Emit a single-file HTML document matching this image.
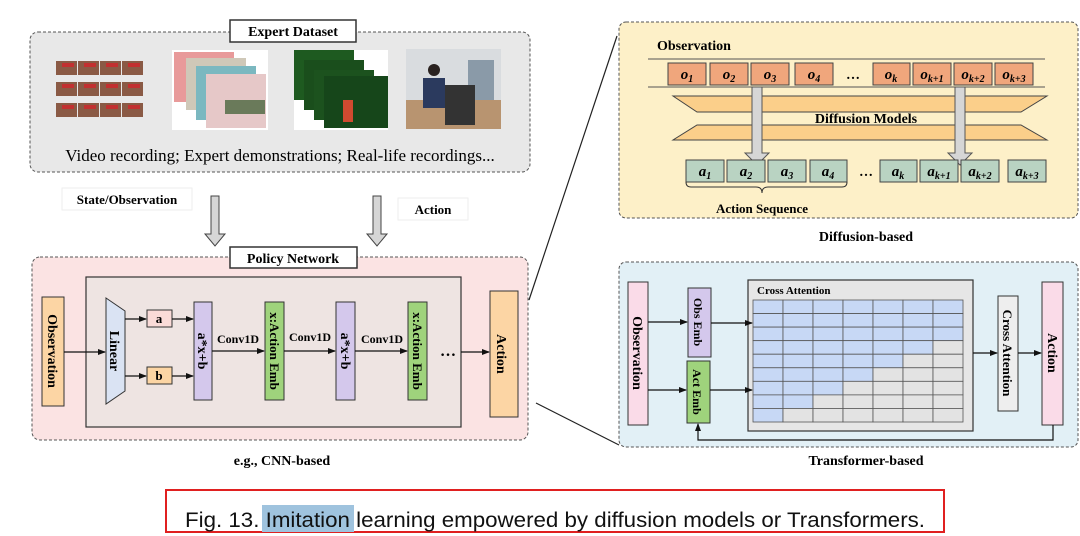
<!DOCTYPE html>
<html><head><meta charset="utf-8"><style>
body{margin:0;background:#fff;width:1080px;height:536px;overflow:hidden}
svg{display:block}
.t{font-family:"Liberation Serif",serif;font-weight:bold}
</style></head><body>
<svg width="1080" height="536" viewBox="0 0 1080 536" xmlns="http://www.w3.org/2000/svg">
<defs>
<marker id="ar" markerWidth="8" markerHeight="8" refX="7" refY="4" orient="auto" markerUnits="userSpaceOnUse"><path d="M0,1 L8,4 L0,7z" fill="#111"/></marker>
</defs>
<g class="t" font-family="Liberation Serif" font-weight="bold">
<!-- Expert dataset -->
<rect x="30" y="32" width="500" height="140" rx="8" fill="#e8e8e8" stroke="#555" stroke-dasharray="3,2"/>
<rect x="230" y="20" width="126" height="22" fill="#fff" stroke="#333" stroke-width="1.5"/>
<text x="293" y="36" font-size="14" text-anchor="middle">Expert Dataset</text>
<!-- image 1 grid -->
<g>
<rect x="55" y="60" width="92" height="58" fill="#e8e8e8"/>
<g fill="#8a5a45"><rect x="56" y="61" width="21" height="14"/><rect x="78" y="61" width="21" height="14"/><rect x="100" y="61" width="21" height="14"/><rect x="122" y="61" width="21" height="14"/>
<rect x="56" y="82" width="21" height="14"/><rect x="78" y="82" width="21" height="14"/><rect x="100" y="82" width="21" height="14"/><rect x="122" y="82" width="21" height="14"/>
<rect x="56" y="103" width="21" height="14"/><rect x="78" y="103" width="21" height="14"/><rect x="100" y="103" width="21" height="14"/><rect x="122" y="103" width="21" height="14"/></g>
<g fill="#c23030"><rect x="62" y="63" width="12" height="4"/><rect x="84" y="63" width="12" height="4"/><rect x="106" y="63" width="12" height="4"/><rect x="128" y="63" width="12" height="4"/>
<rect x="62" y="84" width="12" height="4"/><rect x="84" y="84" width="12" height="4"/><rect x="106" y="84" width="12" height="4"/><rect x="128" y="84" width="12" height="4"/>
<rect x="62" y="105" width="12" height="4"/><rect x="84" y="105" width="12" height="4"/><rect x="106" y="105" width="12" height="4"/><rect x="128" y="105" width="12" height="4"/></g>
</g>
<!-- image 2 -->
<rect x="172" y="50" width="96" height="80" fill="#fff"/>
<rect x="174" y="52" width="60" height="50" fill="#e89a9a"/>
<rect x="186" y="58" width="60" height="52" fill="#cfc8b8"/>
<rect x="196" y="66" width="60" height="54" fill="#7bb8c0"/>
<rect x="206" y="74" width="60" height="54" fill="#e6c8c8"/>
<rect x="225" y="100" width="40" height="14" fill="#6a7a5a"/>
<!-- image 3 -->
<rect x="294" y="50" width="94" height="80" fill="#fff"/>
<rect x="294" y="50" width="60" height="50" fill="#1e5a20"/>
<rect x="304" y="60" width="60" height="50" fill="#1a4e1c"/>
<rect x="314" y="70" width="60" height="50" fill="#1c521e"/>
<rect x="324" y="76" width="64" height="52" fill="#16461a"/>
<rect x="343" y="100" width="10" height="22" fill="#d04a30"/>
<!-- image 4 -->
<rect x="406" y="49" width="95" height="80" fill="#d9dcdf"/>
<rect x="406" y="100" width="95" height="29" fill="#b89470"/>
<rect x="468" y="60" width="26" height="40" fill="#8a9aa8"/>
<rect x="423" y="78" width="22" height="30" fill="#2b3a5e"/>
<circle cx="434" cy="70" r="6" fill="#2a2220"/>
<rect x="445" y="85" width="30" height="40" fill="#333"/>
<text x="280" y="161" font-size="17" font-weight="normal" text-anchor="middle">Video recording; Expert demonstrations; Real-life recordings...</text>
<!-- labels/arrows -->
<rect x="62" y="188" width="130" height="22" fill="#fff" stroke="#eee"/>
<text x="127" y="204" font-size="13" text-anchor="middle">State/Observation</text>
<rect x="398" y="198" width="70" height="22" fill="#fff" stroke="#eee"/>
<text x="433" y="214" font-size="13" text-anchor="middle">Action</text>
<path d="M211,196 h8 v38 h6 l-10,12 l-10,-12 h6z" fill="#d6d6d6" stroke="#444"/>
<path d="M373,196 h8 v38 h6 l-10,12 l-10,-12 h6z" fill="#d6d6d6" stroke="#444"/>
<!-- Policy network -->
<rect x="32" y="257" width="496" height="183" rx="8" fill="#fbe3e3" stroke="#555" stroke-dasharray="3,2"/>
<rect x="230" y="247" width="127" height="21" fill="#fff" stroke="#333" stroke-width="1.5"/>
<text x="293" y="263" font-size="14" text-anchor="middle">Policy Network</text>
<rect x="86" y="277" width="375" height="150" fill="#eee4e2" stroke="#333" stroke-width="1.2"/>
<rect x="42" y="297" width="22" height="109" fill="#fcd5a4" stroke="#333"/>
<text transform="translate(48,351) rotate(90)" font-size="14" text-anchor="middle">Observation</text>
<path d="M106,298 L125,311 L125,391 L106,404z" fill="#dae3f3" stroke="#333"/>
<text transform="translate(110,351) rotate(90)" font-size="14" text-anchor="middle">Linear</text>
<rect x="147" y="310" width="25" height="17" fill="#fadbd8" stroke="#333"/>
<text x="159" y="323" font-size="13" text-anchor="middle">a</text>
<rect x="147" y="367" width="25" height="17" fill="#fcd5a4" stroke="#333"/>
<text x="159" y="380" font-size="13" text-anchor="middle">b</text>
<rect x="194" y="302" width="18" height="98" fill="#d4c8ec" stroke="#333"/>
<text transform="translate(198,351) rotate(90)" font-size="14" text-anchor="middle">a*x+b</text>
<rect x="265" y="302" width="19" height="98" fill="#9fd37c" stroke="#333"/>
<text transform="translate(270,351) rotate(90)" font-size="13" text-anchor="middle">x:Action Emb</text>
<rect x="336" y="302" width="19" height="98" fill="#d4c8ec" stroke="#333"/>
<text transform="translate(341,351) rotate(90)" font-size="14" text-anchor="middle">a*x+b</text>
<rect x="408" y="302" width="19" height="98" fill="#9fd37c" stroke="#333"/>
<text transform="translate(413,351) rotate(90)" font-size="13" text-anchor="middle">x:Action Emb</text>
<text x="448" y="356" font-size="16" text-anchor="middle">…</text>
<rect x="490" y="291" width="28" height="126" fill="#fcd5a4" stroke="#333"/>
<text transform="translate(497,354) rotate(90)" font-size="14" text-anchor="middle">Action</text>
<g stroke="#111" stroke-width="1.2" fill="none" marker-end="url(#ar)">
<line x1="64" y1="352" x2="105" y2="352"/>
<line x1="125" y1="319" x2="146" y2="319"/>
<line x1="125" y1="376" x2="146" y2="376"/>
<line x1="172" y1="319" x2="193" y2="319"/>
<line x1="172" y1="376" x2="193" y2="376"/>
<line x1="212" y1="351" x2="264" y2="351"/>
<line x1="284" y1="351" x2="335" y2="351"/>
<line x1="355" y1="351" x2="407" y2="351"/>
<line x1="461" y1="352" x2="489" y2="352"/>
</g>
<text x="238" y="343" font-size="12" text-anchor="middle">Conv1D</text>
<text x="310" y="341" font-size="12" text-anchor="middle">Conv1D</text>
<text x="382" y="343" font-size="12" text-anchor="middle">Conv1D</text>
<text x="282" y="465" font-size="14" text-anchor="middle">e.g., CNN-based</text>
<!-- connectors -->
<line x1="529" y1="300" x2="617" y2="36" stroke="#222" stroke-width="1.2"/>
<line x1="536" y1="403" x2="619" y2="445" stroke="#222" stroke-width="1.2"/>
<!-- Diffusion -->
<rect x="619" y="22" width="459" height="196" rx="7" fill="#fdf0c8" stroke="#555" stroke-dasharray="3,2"/>
<text x="657" y="50" font-size="14">Observation</text>
<line x1="648" y1="59" x2="1045" y2="59" stroke="#555"/>
<line x1="648" y1="87" x2="1045" y2="87" stroke="#555"/>
<g fill="#f0a67c" stroke="#444">
<rect x="668" y="63" width="38" height="22"/><rect x="710" y="63" width="38" height="22"/><rect x="751" y="63" width="38" height="22"/><rect x="795" y="63" width="38" height="22"/>
<rect x="873" y="63" width="37" height="22"/><rect x="913" y="63" width="38" height="22"/><rect x="954" y="63" width="38" height="22"/><rect x="995" y="63" width="38" height="22"/>
</g>
<g font-size="15" font-style="italic" text-anchor="middle">
<text x="687" y="79">o<tspan font-size="10" dy="3">1</tspan></text>
<text x="729" y="79">o<tspan font-size="10" dy="3">2</tspan></text>
<text x="770" y="79">o<tspan font-size="10" dy="3">3</tspan></text>
<text x="814" y="79">o<tspan font-size="10" dy="3">4</tspan></text>
<text x="891" y="79">o<tspan font-size="10" dy="3">k</tspan></text>
<text x="932" y="79">o<tspan font-size="10" dy="3">k+1</tspan></text>
<text x="973" y="79">o<tspan font-size="10" dy="3">k+2</tspan></text>
<text x="1014" y="79">o<tspan font-size="10" dy="3">k+3</tspan></text>
</g>
<text x="853" y="79" font-size="14" text-anchor="middle">…</text>
<path d="M673,96 L1047,96 L1021,112 L697,112z" fill="#fbcf8a" stroke="#444"/>
<path d="M697,125 L1021,125 L1047,140 L673,140z" fill="#fbcf8a" stroke="#444"/>
<path d="M752,87 h10 v66 h7 l-12,12 l-12,-12 h7z" fill="#d6d6d6" stroke="#555"/>
<path d="M955,87 h10 v66 h7 l-12,12 l-12,-12 h7z" fill="#d6d6d6" stroke="#555"/>
<text x="866" y="123" font-size="14" text-anchor="middle">Diffusion Models</text>
<g fill="#b9d3c2" stroke="#444">
<rect x="686" y="160" width="38" height="22"/><rect x="727" y="160" width="38" height="22"/><rect x="768" y="160" width="38" height="22"/><rect x="810" y="160" width="37" height="22"/>
<rect x="880" y="160" width="37" height="22"/><rect x="920" y="160" width="38" height="22"/><rect x="961" y="160" width="38" height="22"/><rect x="1008" y="160" width="38" height="22"/>
</g>
<g font-size="15" font-style="italic" text-anchor="middle">
<text x="705" y="176">a<tspan font-size="10" dy="3">1</tspan></text>
<text x="746" y="176">a<tspan font-size="10" dy="3">2</tspan></text>
<text x="787" y="176">a<tspan font-size="10" dy="3">3</tspan></text>
<text x="828" y="176">a<tspan font-size="10" dy="3">4</tspan></text>
<text x="898" y="176">a<tspan font-size="10" dy="3">k</tspan></text>
<text x="939" y="176">a<tspan font-size="10" dy="3">k+1</tspan></text>
<text x="980" y="176">a<tspan font-size="10" dy="3">k+2</tspan></text>
<text x="1027" y="176">a<tspan font-size="10" dy="3">k+3</tspan></text>
</g>
<text x="866" y="176" font-size="14" text-anchor="middle">…</text>
<path d="M686,182 q0,5 5,5 h65 q6,0 6,6 q0,-6 6,-6 h74 q5,0 5,-5" fill="none" stroke="#333"/>
<text x="762" y="213" font-size="13" text-anchor="middle">Action Sequence</text>
<text x="866" y="241" font-size="14" text-anchor="middle">Diffusion-based</text>
<!-- Transformer -->
<rect x="619" y="262" width="459" height="185" rx="7" fill="#e2f0f6" stroke="#555" stroke-dasharray="3,2"/>
<rect x="628" y="282" width="20" height="143" fill="#fadbe8" stroke="#333"/>
<text transform="translate(633,353) rotate(90)" font-size="14" text-anchor="middle">Observation</text>
<rect x="688" y="288" width="23" height="69" fill="#d4c8ec" stroke="#333"/>
<text transform="translate(694,322) rotate(90)" font-size="12" text-anchor="middle">Obs Emb</text>
<rect x="687" y="361" width="23" height="62" fill="#9fd37c" stroke="#333"/>
<text transform="translate(693,392) rotate(90)" font-size="12" text-anchor="middle">Act Emb</text>
<rect x="748" y="280" width="225" height="151" fill="#e6e6e6" stroke="#333" stroke-width="1.2"/>
<text x="757" y="294" font-size="11">Cross Attention</text>
<g id="grid"></g>
<rect x="998" y="296" width="20" height="115" fill="#eee" stroke="#333"/>
<text transform="translate(1003,353) rotate(90)" font-size="13" text-anchor="middle">Cross Attention</text>
<rect x="1042" y="282" width="21" height="143" fill="#fadbe8" stroke="#333"/>
<text transform="translate(1048,353) rotate(90)" font-size="14" text-anchor="middle">Action</text>
<g stroke="#111" stroke-width="1.2" fill="none" marker-end="url(#ar)">
<line x1="648" y1="322" x2="687" y2="322"/>
<line x1="648" y1="390" x2="686" y2="390"/>
<line x1="711" y1="323" x2="752" y2="323"/>
<line x1="710" y1="390" x2="752" y2="390"/>
<line x1="973" y1="353" x2="997" y2="353"/>
<line x1="1018" y1="353" x2="1041" y2="353"/>
<path d="M1053,425 V440 H698 V424"/>
</g>
<text x="866" y="465" font-size="14" text-anchor="middle">Transformer-based</text>
</g>
<!-- grid cells -->
<g stroke="#555" stroke-width="0.8">
<script>/* none */</script>
</g>
<g stroke="#555" stroke-width="0.8">
<!-- rows generated manually -->
</g>
<!-- caption -->
<rect x="166" y="490" width="778" height="42" fill="none" stroke="#e02020" stroke-width="2"/>
<rect x="262" y="505" width="92" height="27" fill="#9fc3de"/>
<text x="555" y="527" font-family="Liberation Sans Narrow, Liberation Sans, sans-serif" font-size="21" text-anchor="middle" textLength="740" lengthAdjust="spacingAndGlyphs" fill="#111">Fig. 13.  Imitation learning empowered by diffusion models or Transformers.</text>
</svg>
<script>
(function(){var ns="http://www.w3.org/2000/svg",g=document.getElementById("grid");
var x0=753,y0=300,cw=30,rh=122/9;var blue=[7,7,7,6,5,4,3,2,1];
for(var r=0;r<9;r++)for(var c=0;c<7;c++){var e=document.createElementNS(ns,"rect");
e.setAttribute("x",x0+c*cw);e.setAttribute("y",y0+r*rh);e.setAttribute("width",cw);e.setAttribute("height",rh);
e.setAttribute("fill",c<blue[r]?"#c7d8f5":"#e3e3e3");e.setAttribute("stroke","#555");e.setAttribute("stroke-width","0.8");g.appendChild(e);}})();
</script>
</body></html>
